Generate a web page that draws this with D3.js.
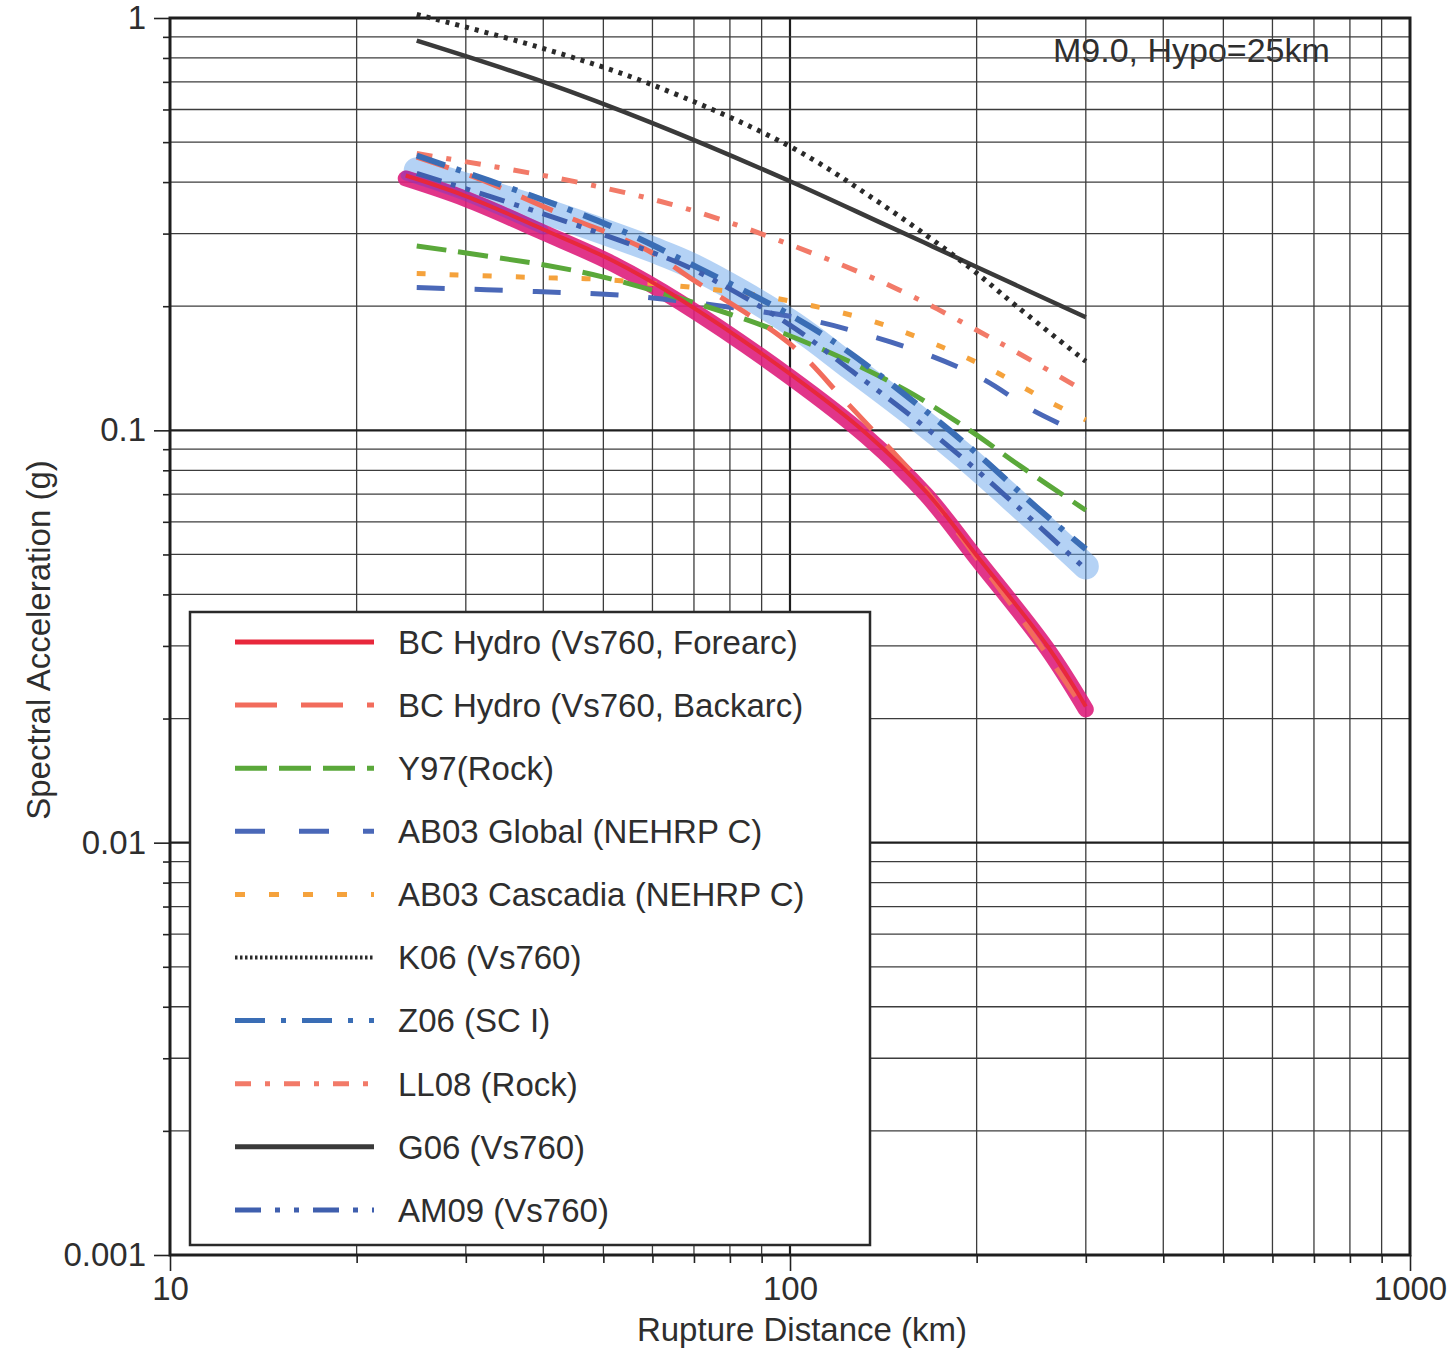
<!DOCTYPE html>
<html>
<head>
<meta charset="utf-8">
<script src="https://cdn.jsdelivr.net/npm/d3@7"></script>
<style>
  body { margin: 0; background: #fff; }
  text { font-family: "Liberation Sans", Arial, Helvetica, sans-serif; fill: #2e2e2e; }
</style>
</head>
<body>
<svg id="chart" width="1453" height="1349"></svg>
<script>
// values (distance km, spectral acceleration g)
const bcForeDist = [24, 30, 40, 52, 66.5, 100, 133, 166, 200, 260, 300];
const bcForeSa   = [0.415, 0.37, 0.307, 0.257, 0.208, 0.137, 0.098, 0.0708, 0.0497, 0.030, 0.0214];

const bcBackDist = [25, 31, 43, 59, 70, 100, 122, 136, 162, 200, 250, 300];
const bcBackSa   = [0.46, 0.411, 0.333, 0.273, 0.231, 0.162, 0.119, 0.10, 0.0748, 0.049, 0.031, 0.0208];

const y97Dist = [25, 40.6, 50.8, 82, 113, 154, 195, 235, 300];
const y97Sa   = [0.28, 0.251, 0.234, 0.189, 0.157, 0.125, 0.100, 0.082, 0.064];

const ab03gDist = [25, 39, 57, 106, 132, 168, 205, 246, 300];
const ab03gSa   = [0.222, 0.217, 0.211, 0.186, 0.171, 0.152, 0.133, 0.112, 0.097];

const ab03cDist = [25, 42, 48, 70, 90, 131, 166, 208, 260, 300];
const ab03cSa   = [0.24, 0.234, 0.233, 0.222, 0.212, 0.187, 0.165, 0.142, 0.118, 0.106];

const k06Dist = [25, 39, 59, 99, 140, 193, 232, 300];
const k06Sa   = [1.02, 0.853, 0.695, 0.492, 0.355, 0.251, 0.20, 0.147];

const z06Dist = [25, 40.6, 54, 71, 101, 122, 166, 200, 250, 300];
const z06Sa   = [0.464, 0.359, 0.303, 0.248, 0.189, 0.158, 0.111, 0.088, 0.065, 0.0515];

const ll08Dist = [25, 45, 68, 102, 150, 218, 300];
const ll08Sa   = [0.469, 0.401, 0.345, 0.279, 0.219, 0.163, 0.124];

const g06Dist = [25, 40, 60, 100, 140, 170, 200, 300];
const g06Sa   = [0.881, 0.70, 0.556, 0.402, 0.319, 0.279, 0.249, 0.188];

const am09Dist = [25, 40, 60, 70, 100, 126, 156, 191, 232, 300];
const am09Sa   = [0.42, 0.335, 0.27, 0.245, 0.18, 0.139, 0.109, 0.085, 0.0656, 0.046];

const legendNames = [
  "BC Hydro (Vs760, Forearc)", "BC Hydro (Vs760, Backarc)", "Y97(Rock)",
  "AB03 Global (NEHRP C)", "AB03 Cascadia (NEHRP C)", "K06 (Vs760)",
  "Z06 (SC I)", "LL08 (Rock)", "G06 (Vs760)", "AM09 (Vs760)"
];
const yTickLabels = ["0.001", "0.01", "0.1", "1"];
const xTickLabels = ["10", "100", "1000"];

const zip = (ds, vs) => ds.map((d, i) => ({ d: d, v: vs[i] }));

// style table for each series
const series = [
  { pts: zip(bcForeDist, bcForeSa), color: "#e8283c", width: 4, dash: null },
  { pts: zip(bcBackDist, bcBackSa), color: "#f26c5c", width: 5, dash: "34,22" },
  { pts: zip(y97Dist, y97Sa), color: "#5aa83a", width: 5, dash: "30,12" },
  { pts: zip(ab03gDist, ab03gSa), color: "#4a68b8", width: 5, dash: "28,30" },
  { pts: zip(ab03cDist, ab03cSa), color: "#f5a23c", width: 5, dash: "9,24" },
  { pts: zip(k06Dist, k06Sa), color: "#2a2a2a", width: 5, dash: "4,6" },
  { pts: zip(z06Dist, z06Sa), color: "#3a6db5", width: 6, dash: "30,12,5,12" },
  { pts: zip(ll08Dist, ll08Sa), color: "#f27a68", width: 5, dash: "16,14,5,14" },
  { pts: zip(g06Dist, g06Sa), color: "#3a3a3a", width: 4.5, dash: null },
  { pts: zip(am09Dist, am09Sa), color: "#3f5fae", width: 5, dash: "26,10,5,10,5,10" }
];
const legendDash = ["", "42,24", "32,12", "30,34", "10,24", "2.5,2.5", "30,16,5,16", "16,14,5,14", "", "26,14,5,14,5,14"];

const svg = d3.select("#chart");
const x = d3.scaleLog().domain([10, 1000]).range([170, 1410]);
const y = d3.scaleLog().domain([0.001, 1]).range([1255, 18]);
const isMajor = (t) => Math.abs(Math.log10(t) - Math.round(Math.log10(t))) < 1e-9;

// annotation (grid lines run across it in the original)
svg.append("text")
  .attr("x", 1053).attr("y", 62)
  .attr("font-size", 34).attr("fill", "#444")
  .text("M9.0, Hypo=25km");

// grid
const grid = svg.append("g").attr("class", "grid");
grid.selectAll(".vx")
  .data(x.ticks().filter((t) => t > 10 && t < 1000))
  .join("line")
  .attr("x1", (d) => x(d)).attr("x2", (d) => x(d))
  .attr("y1", y(1)).attr("y2", y(0.001))
  .attr("stroke", (d) => (isMajor(d) ? "#1e1e1e" : "#3c3c3c"))
  .attr("stroke-width", (d) => (isMajor(d) ? 2.2 : 1.3));
grid.selectAll(".hy")
  .data(y.ticks().filter((t) => t > 0.001 && t < 1))
  .join("line")
  .attr("x1", x(10)).attr("x2", x(1000))
  .attr("y1", (d) => y(d)).attr("y2", (d) => y(d))
  .attr("stroke", (d) => (isMajor(d) ? "#1e1e1e" : "#3c3c3c"))
  .attr("stroke-width", (d) => (isMajor(d) ? 2.2 : 1.3));

// axes
const yMajor = y.ticks().filter(isMajor);
const xMajor = x.ticks().filter(isMajor);
const yAxis = svg.append("g").attr("transform", `translate(${x(10)},0)`)
  .call(d3.axisLeft(y).tickValues(yMajor).tickSize(16).tickPadding(8)
    .tickFormat((d, i) => yTickLabels[i]));
const yMinor = svg.append("g").attr("transform", `translate(${x(10)},0)`)
  .call(d3.axisLeft(y).tickValues(y.ticks().filter((t) => !isMajor(t))).tickSize(7).tickFormat(""));
const xAxis = svg.append("g").attr("transform", `translate(0,${y(0.001)})`)
  .call(d3.axisBottom(x).tickValues(xMajor).tickSize(16).tickPadding(6)
    .tickFormat((d, i) => xTickLabels[i]));
const xMinor = svg.append("g").attr("transform", `translate(0,${y(0.001)})`)
  .call(d3.axisBottom(x).tickValues(x.ticks().filter((t) => !isMajor(t))).tickSize(8).tickFormat(""));
[yAxis, yMinor, xAxis, xMinor].forEach((g) => {
  g.select(".domain").remove();
  g.selectAll(".tick line").attr("stroke", "#222").attr("stroke-width", 1.6);
  g.selectAll("text").attr("font-size", 33).attr("fill", "#2e2e2e")
    .attr("font-family", '"Liberation Sans", Arial, sans-serif');
});

// frame
svg.append("rect")
  .attr("x", x(10)).attr("y", y(1))
  .attr("width", x(1000) - x(10)).attr("height", y(0.001) - y(1))
  .attr("fill", "none").attr("stroke", "#1e1e1e").attr("stroke-width", 3);

// axis titles
svg.append("text")
  .attr("x", 802).attr("y", 1341)
  .attr("text-anchor", "middle").attr("font-size", 33)
  .text("Rupture Distance (km)");
svg.append("text")
  .attr("transform", "translate(50,640) rotate(-90)")
  .attr("text-anchor", "middle").attr("font-size", 33)
  .text("Spectral Acceleration (g)");

const line = d3.line()
  .x((p) => x(p.d))
  .y((p) => y(p.v))
  .curve(d3.curveCatmullRom.alpha(0.5));

// hand-drawn highlighter bands
const bands = svg.append("g").attr("class", "bands");
bands.append("path").datum(series[9].pts)
  .attr("d", line).attr("fill", "none")
  .attr("stroke", "#6aa6ec").attr("stroke-opacity", 0.5)
  .attr("stroke-width", 26).attr("stroke-linecap", "round")
  .attr("transform", "translate(0,-3)");
bands.append("path").datum(series[0].pts)
  .attr("d", line).attr("fill", "none")
  .attr("stroke", "#de1f7c").attr("stroke-opacity", 0.9)
  .attr("stroke-width", 16).attr("stroke-linecap", "round")
  .attr("transform", "translate(0,3)");
bands.append("path").datum(series[0].pts.filter((p) => p.d <= 45))
  .attr("d", line).attr("fill", "none")
  .attr("stroke", "#7a3cc8").attr("stroke-opacity", 0.45)
  .attr("stroke-width", 10).attr("stroke-linecap", "round");

// curves
const drawOrder = [4, 3, 7, 2, 1, 6, 9, 0, 8, 5];
svg.append("g").attr("class", "curves")
  .selectAll("path")
  .data(drawOrder.map((i) => series[i]))
  .join("path")
  .attr("d", (s) => line(s.pts))
  .attr("fill", "none")
  .attr("stroke", (s) => s.color)
  .attr("stroke-width", (s) => s.width)
  .attr("stroke-dasharray", (s) => s.dash)
  .attr("stroke-linecap", "butt");

// legend
const lg = svg.append("g").attr("class", "legend");
lg.append("rect")
  .attr("x", 190).attr("y", 612).attr("width", 680).attr("height", 633)
  .attr("fill", "#fff").attr("stroke", "#2a2a2a").attr("stroke-width", 2.5);
const rowY = (i) => 642 + i * 63.1;
const items = lg.selectAll(".item")
  .data(legendNames)
  .join("g")
  .attr("transform", (d, i) => `translate(0,${rowY(i)})`);
items.append("line")
  .attr("x1", 235).attr("x2", 374).attr("y1", 0).attr("y2", 0)
  .attr("stroke", (d, i) => series[i].color)
  .attr("stroke-width", (d, i) => (i === 5 ? 4 : 5))
  .attr("stroke-dasharray", (d, i) => legendDash[i] || null);
items.append("text")
  .attr("x", 398).attr("dy", "0.36em")
  .attr("font-size", 33)
  .text((d) => d);
</script>
</body>
</html>
